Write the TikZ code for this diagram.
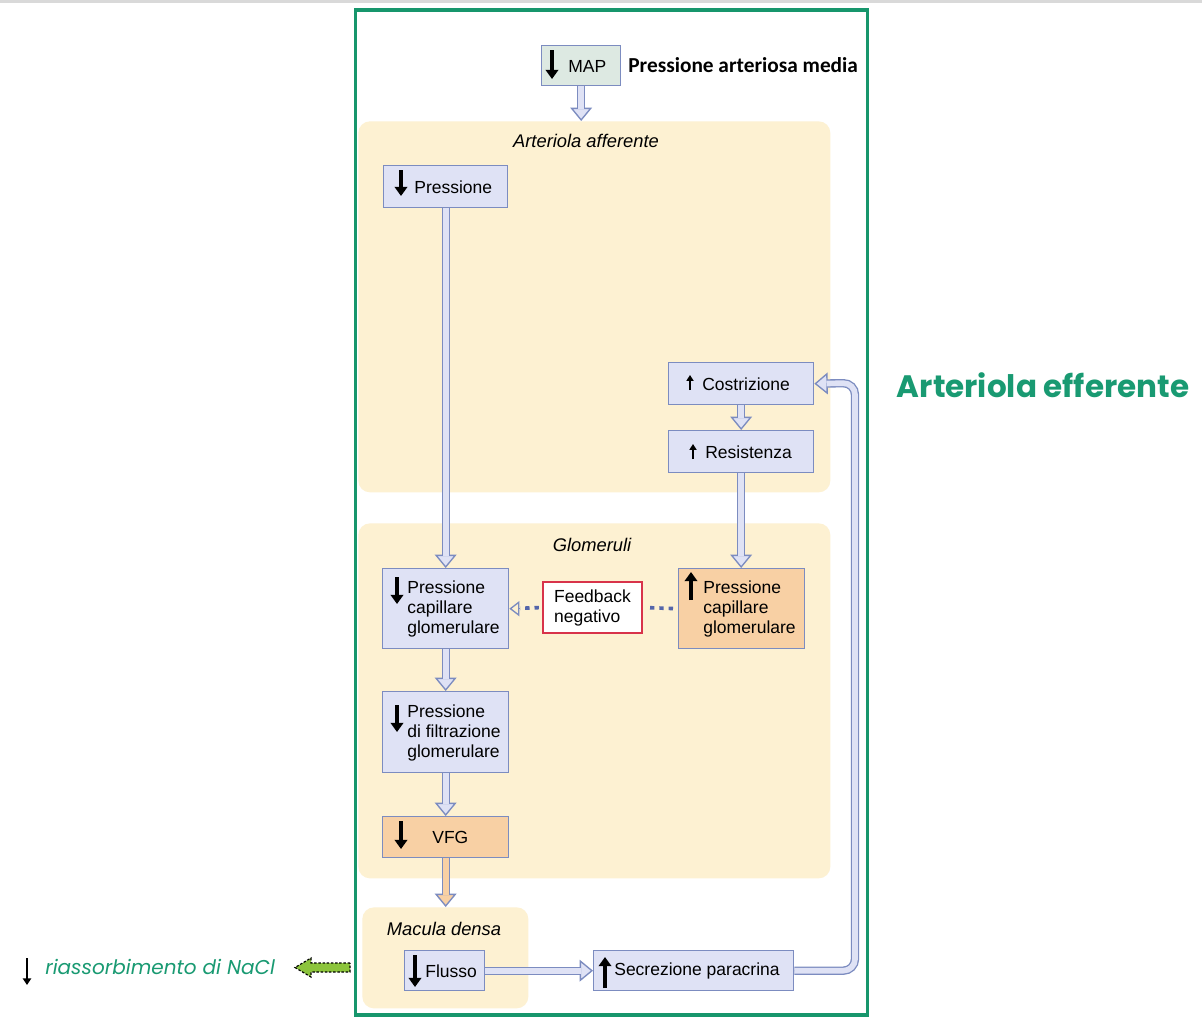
\documentclass[tikz,border=0pt]{standalone}
\usepackage{fontspec}
\setmainfont{Liberation Sans}
\newfontfamily\carl{Carlito}
\newfontfamily\pop{Poppins}
\usetikzlibrary{arrows.meta,calc}
\definecolor{bfill}{HTML}{DFE2F5}
\definecolor{bdraw}{HTML}{7C8CC0}
\definecolor{ofill}{HTML}{F8D0A4}
\definecolor{regcol}{HTML}{FDF1D2}
\definecolor{gborder}{HTML}{17966C}
\definecolor{mapfill}{HTML}{DDE9E2}
\definecolor{fbred}{HTML}{D8334A}
\definecolor{dotblue}{HTML}{5566AA}
\definecolor{txtgreen}{HTML}{199A72}
\definecolor{lgreen}{HTML}{8CC43C}
\newcommand\boxfont{\fontsize{10.5}{12}\selectfont}
% #1 style, #2 name, #3 x1, #4 y1, #5 x2, #6 y2, #7 text, #8 text x
\newcommand\mkbox[8]{%
  \pgfmathsetmacro\mybw{(#5-#3)*0.6}%
  \pgfmathsetmacro\mybh{(#6-#4)*0.6}%
  \pgfmathsetmacro\mybx{(#8-#3)*0.6}%
  \node[#1, minimum width=\mybw pt, minimum height=\mybh pt, anchor=north west,
    label={[anchor=west, xshift=\mybx pt, yshift=-0.4pt, align=left, inner sep=0pt, font=\boxfont]west:#7}] (#2) at (#3,#4) {};}
\begin{document}
\begin{tikzpicture}[x=0.6pt,y=-0.6pt,
  box/.style={draw=bdraw, fill=bfill, line width=0.8pt, inner sep=0pt},
  obox/.style={box, fill=ofill},
  mbox/.style={box, fill=mapfill},
  region/.style={fill=regcol, rounded corners=7pt, inner sep=0pt},
  hol/.style={draw=bdraw, line width=5pt, shorten >=7pt,
    postaction={draw=bdraw, line width=0.8pt, shorten >=0pt, -{Triangle[length=8pt,width=13pt,fill=#1]}},
    postaction={draw=#1, line width=3.4pt, shorten >=7.3pt}},
  hol/.default=bfill,
  dotc/.style={draw=dotblue, line width=2.2pt, dash pattern=on 2.6pt off 3pt},
  bigarr/.style={line width=2.6pt, -{Triangle[length=5.5pt, width=7.5pt]}},
  smarr/.style={line width=1.2pt, -{Triangle[length=3.5pt, width=4.2pt]}},
  lbl/.style={font=\fontsize{11}{13}\selectfont\itshape, inner sep=0pt}
]
\path[use as bounding box] (0,0) rectangle (1202,1017);
\fill[white] (0,0) rectangle (1202,1017);
\fill[black!15] (0,0) rectangle (1202,3);

% regions
\mkbox{region}{aff}{358}{121}{830}{492}{}{400}
\mkbox{region}{glom}{358}{523}{830}{878}{}{400}
\mkbox{region}{mac}{362}{907}{528}{1008}{}{400}
\node[lbl] (affl) at (586,141) {Arteriola afferente};
\node[lbl] (glomll) at (592,545) {Glomeruli};
\node[lbl] (macl) at (444,929) {Macula densa};

% green frame
\draw[gborder, line width=1.9pt] (355.5,10) rectangle (867.5,1015);

% boxes
\mkbox{mbox}{map}{541}{45}{620}{85}{MAP}{568}
\mkbox{box}{pres}{383}{165}{507}{207}{Pressione}{414}
\mkbox{box}{costr}{668}{362}{813}{404}{Costrizione}{702}
\mkbox{box}{resist}{668}{430}{813}{472}{Resistenza}{705}
\mkbox{box}{pcgL}{382}{568}{508}{648}{Pressione\\capillare\\glomerulare}{407}
\mkbox{obox}{pcgR}{678}{568}{804}{648}{Pressione\\capillare\\glomerulare}{703}
\mkbox{box}{pfg}{382}{691}{508}{772}{Pressione\\di filtrazione\\glomerulare}{407}
\mkbox{obox}{vfg}{382}{816}{508}{857}{VFG}{432}
\mkbox{box}{flusso}{404}{950}{484}{990}{Flusso}{425}
\mkbox{box}{secr}{593}{950}{793}{990}{Secrezione paracrina}{614}
\node[draw=fbred, fill=white, line width=1pt, minimum width=59.4pt, minimum height=30.6pt,
  align=left, inner sep=0pt, font=\boxfont] (fb) at (592.5,607.5) {Feedback\\negativo};

% icons
\draw[bigarr] (552,50) -- (552,79);
\draw[bigarr] (401,170) -- (401,196);
\draw[smarr] (690,390) -- (690,375);
\draw[smarr] (693,459) -- (693,444);
\draw[bigarr] (397,577) -- (397,604);
\draw[bigarr] (691,600) -- (691,572);
\draw[bigarr] (397,705) -- (397,732);
\draw[bigarr] (401,821) -- (401,849);
\draw[bigarr] (415,955) -- (415,987);
\draw[bigarr] (605,988) -- (605,957);

% connectors
\coordinate (loop) at (855,383);
\draw[hol] (map.south) -- (map.south |- aff.north);
\draw[hol] (pres.south) -- (pres.south |- pcgL.north);
\draw[hol] (costr.south) -- (costr.south |- resist.north);
\draw[hol] (resist.south) -- (resist.south |- pcgR.north);
\draw[hol] (pcgL.south) -- (pcgL.south |- pfg.north);
\draw[hol] (pfg.south) -- (pfg.south |- vfg.north);
\draw[hol=ofill] (vfg.south) -- (vfg.south |- mac.north);
\draw[hol] (flusso.east) -- (flusso.east -| secr.west);
\draw[hol, rounded corners=7pt] (secr.east) -| (loop) -- (costr.east);

\draw[dotc, shorten <=2pt, shorten >=6.5pt] (fb.west) -- (pcgL.east);
\draw[bdraw, line width=0.8pt, -{Triangle[open, length=6pt, width=9pt]}] ($(pcgL.east)+(10,0)$) -- (pcgL.east);
\draw[dotc, shorten <=3pt, shorten >=2pt] (pcgR.west) -- (fb.east);

% outside texts
\node[anchor=west, inner sep=0pt, font=\carl\bfseries\fontsize{12.8}{15}\selectfont] (pam) at (628,65) {Pressione arteriosa media};
\node[inner sep=0pt, text=txtgreen, font=\pop\bfseries\fontsize{18.6}{21}\selectfont] (aeff) at (1043,385) {Arteriola efferente};
\draw[line width=1.3pt, -{Triangle[length=4pt,width=5pt]}] (27,958) -- (27,985);
\node[anchor=west, inner sep=0pt, text=txtgreen, font=\pop\itshape\fontsize{12}{14}\selectfont] (riass) at (45,967) {riassorbimento di NaCl};
\draw[fill=lgreen, draw=black, dash pattern=on 1.5pt off 1pt, line width=0.7pt]
  (350,963) -- (311,963) -- (311,958) -- (295,967.5) -- (311,977) -- (311,972) -- (350,972) -- cycle;
\end{tikzpicture}
\end{document}
